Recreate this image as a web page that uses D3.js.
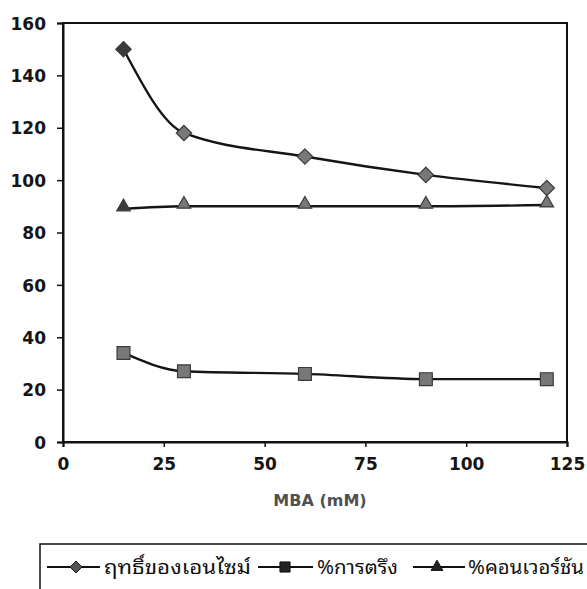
<!DOCTYPE html>
<html>
<head>
<meta charset="utf-8">
<script src="https://cdn.jsdelivr.net/npm/d3@7/dist/d3.min.js"></script>
<style>
  html, body { margin: 0; padding: 0; background: #fff; }
  svg { display: block; }
</style>
</head>
<body>
<svg id="chart" width="587" height="589"></svg>
<script>
// MBA concentration (mM)
const mba = [15, 30, 60, 90, 120];
// Enzyme activity, % immobilization, % conversion
const activity = [150, 118, 109, 102, 97];
const immobilization = [34, 27, 26, 24, 24];
const conversion = [89, 90, 90, 90, 90.5];

const xTicks = [0, 25, 50, 75, 100, 125];
const yTicks = [0, 20, 40, 60, 80, 100, 120, 140, 160];
const seriesNames = ["ฤทธิ์ของเอนไซม์", "%การตรึง", "%คอนเวอร์ชัน"];
const xTitle = "MBA (mM)";

const svg = d3.select("#chart");
const plotLeft = 63, plotRight = 567, plotTop = 23, plotBottom = 442;

const x = d3.scaleLinear().domain([0, 125]).range([plotLeft, plotRight]);
const y = d3.scaleLinear().domain([0, 160]).range([plotBottom, plotTop]);

const labelFont = "DejaVu Sans, Verdana, sans-serif";

// frame
svg.append("rect")
  .attr("x", plotLeft).attr("y", plotTop)
  .attr("width", plotRight - plotLeft).attr("height", plotBottom - plotTop)
  .attr("fill", "none").attr("stroke", "#111").attr("stroke-width", 2);

// axes
const yAxis = d3.axisLeft(y).tickValues(yTicks).tickSize(6).tickPadding(11);
const gy = svg.append("g").attr("transform", `translate(${plotLeft},0)`).call(yAxis);
const xAxis = d3.axisBottom(x).tickValues(xTicks).tickSize(5).tickPadding(11);
const gx = svg.append("g").attr("transform", `translate(0,${plotBottom})`).call(xAxis);

[gx, gy].forEach(g => {
  g.select(".domain").attr("stroke", "#111").attr("stroke-width", 2);
  g.selectAll(".tick line").attr("stroke", "#111").attr("stroke-width", 1.5);
  g.selectAll(".tick text")
    .attr("fill", "#151515")
    .style("font-family", labelFont)
    .style("font-size", "17px")
    .style("font-weight", "bold");
});
gy.selectAll(".tick text").attr("dy", "0.36em");

// axis title
svg.append("text")
  .attr("x", (plotLeft + plotRight) / 2 + 5).attr("y", 506)
  .attr("text-anchor", "middle")
  .attr("fill", "#505050")
  .style("font-family", labelFont)
  .style("font-size", "16px")
  .style("font-weight", "bold")
  .text(xTitle);

// markers
const markerFill = "#787878";
const symbols = [
  d3.symbol().type(d3.symbolDiamond2).size(150),
  d3.symbol().type(d3.symbolSquare2).size(210),
  d3.symbol().type(d3.symbolTriangle2).size(130)
];
const series = [activity, immobilization, conversion];

const line = d3.line()
  .x((d, i) => x(mba[i]))
  .y(d => y(d))
  .curve(d3.curveMonotoneX);

series.forEach((vals, s) => {
  svg.append("path")
    .attr("d", line(vals))
    .attr("fill", "none")
    .attr("stroke", "#151515")
    .attr("stroke-width", 2.4);
  svg.append("g").selectAll("path")
    .data(vals)
    .join("path")
    .attr("transform", (d, i) => `translate(${x(mba[i])},${y(d) - (s === 2 ? 2 : 0)})`)
    .attr("d", symbols[s]())
    .attr("fill", (d, i) => i === 0 && s !== 1 ? "#3a3a3a" : markerFill)
    .attr("stroke", "#3a3a3a")
    .attr("stroke-width", 1.2);
});

// legend
const legend = svg.append("g");
legend.append("rect")
  .attr("x", 40).attr("y", 544)
  .attr("width", 600).attr("height", 80)
  .attr("fill", "none").attr("stroke", "#111").attr("stroke-width", 1.5);

const legendItems = [
  { x0: 47, x1: 100, cx: 76, tx: 104, tw: 147 },
  { x0: 258, x1: 313, cx: 285, tx: 317, tw: 81 },
  { x0: 413, x1: 465, cx: 437, tx: 468, tw: 116 }
];
const legendY = 567;
const legendSymbols = [
  d3.symbol().type(d3.symbolDiamond2).size(90),
  d3.symbol().type(d3.symbolSquare2).size(130),
  d3.symbol().type(d3.symbolTriangle2).size(100)
];
legendItems.forEach((it, s) => {
  legend.append("line")
    .attr("x1", it.x0).attr("x2", it.x1)
    .attr("y1", legendY).attr("y2", legendY)
    .attr("stroke", "#111").attr("stroke-width", 2);
  legend.append("path")
    .attr("transform", `translate(${it.cx},${legendY})`)
    .attr("d", legendSymbols[s]())
    .attr("fill", s === 0 ? "#555" : "#222")
    .attr("stroke", "#111").attr("stroke-width", 1);
  legend.append("text")
    .attr("x", it.tx).attr("y", legendY)
    .attr("dy", "0.38em")
    .attr("fill", "#111")
    .attr("textLength", it.tw)
    .attr("lengthAdjust", "spacingAndGlyphs")
    .style("font-family", "Noto Sans Thai Looped, Noto Sans Thai, Noto Sans, DejaVu Sans, sans-serif")
    .style("font-size", "19px")
    .text(seriesNames[s]);
});
</script>
</body>
</html>
